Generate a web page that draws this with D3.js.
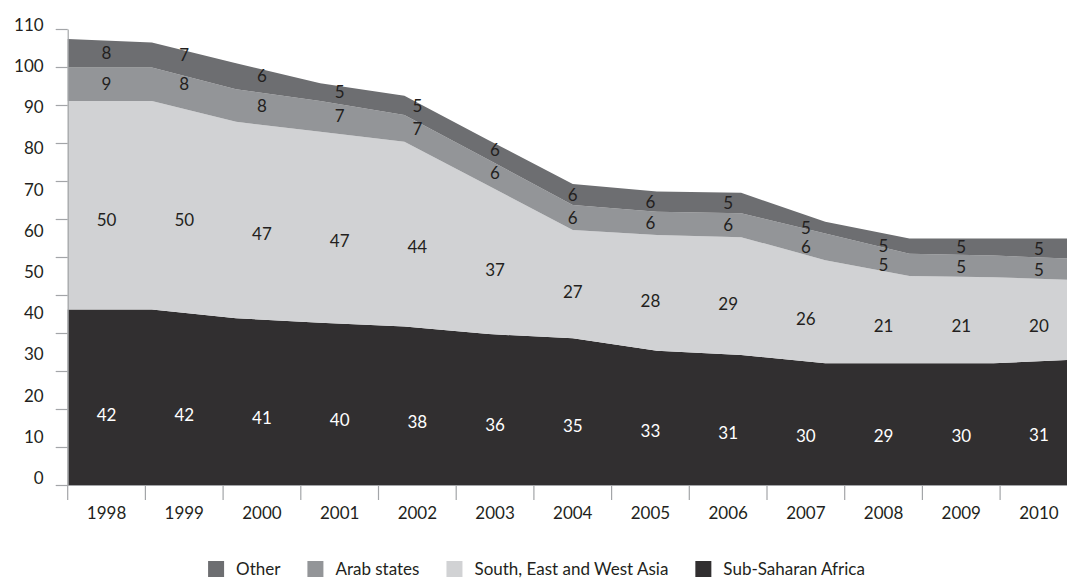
<!DOCTYPE html>
<html>
<head>
<meta charset="utf-8">
<script src="https://cdn.jsdelivr.net/npm/d3@7"></script>
<style>
  html, body { margin: 0; padding: 0; background: #fff; }
  svg { display: block; font-family: Lato, "Noto Sans", sans-serif; }
</style>
</head>
<body>
<svg id="chart" width="1067" height="581"></svg>
<script>
// ---- data ----
const years = [1998, 1999, 2000, 2001, 2002, 2003, 2004, 2005, 2006, 2007, 2008, 2009, 2010];
const seriesNames = ["Sub-Saharan Africa", "South, East and West Asia", "Arab states", "Other"];
// plotted values (as drawn)
const africa = [42.0, 42.0, 39.9, 38.8, 37.9, 36.1, 35.1, 32.1, 31.1, 29.1, 29.1, 29.1, 30.0];
const asia   = [49.9, 49.9, 47.0, 45.7, 44.2, 35.5, 25.9, 27.7, 28.2, 24.7, 20.9, 20.6, 19.0];
const arab   = [8.0, 8.0, 7.8, 7.4, 6.4, 6.2, 6.0, 5.6, 5.7, 6.4, 5.3, 5.2, 5.1];
const other  = [6.8, 6.0, 6.2, 4.2, 4.6, 4.7, 5.0, 4.8, 4.9, 2.8, 3.7, 4.1, 4.9];
// printed data labels
const africaLabels = [42, 42, 41, 40, 38, 36, 35, 33, 31, 30, 29, 30, 31];
const asiaLabels   = [50, 50, 47, 47, 44, 37, 27, 28, 29, 26, 21, 21, 20];
const arabLabels   = [9, 8, 8, 7, 7, 6, 6, 6, 6, 6, 5, 5, 5];
const otherLabels  = [8, 7, 6, 5, 5, 6, 6, 6, 5, 5, 5, 5, 5];
const yTickLabels  = [0, 10, 20, 30, 40, 50, 60, 70, 80, 90, 100, 110];
const legendOrder  = ["Other", "Arab states", "South, East and West Asia", "Sub-Saharan Africa"];

// ---- styles ----
const colors = {
  "Sub-Saharan Africa": "#312f30",
  "South, East and West Asia": "#d1d2d4",
  "Arab states": "#939598",
  "Other": "#6d6e71"
};
const labelColors = {
  "Sub-Saharan Africa": "#ffffff",
  "South, East and West Asia": "#231f20",
  "Arab states": "#231f20",
  "Other": "#231f20"
};
// where inside its band each data label sits (0 = bottom, 1 = top)
const labelAnchor = {
  "Sub-Saharan Africa": 0.4,
  "South, East and West Asia": 0.43,
  "Arab states": 0.5,
  "Other": 0.5
};
const axisColor = "#a3a5a8";
const textColor = "#231f20";
const fontSize = 17;

const svg = d3.select("#chart");
const plotLeft = 67.7, plotRight = 1077.8, plotBottom = 485, plotTop = 29;
const yMax = 109.1;

const table = years.map((yr, i) => ({
  year: yr,
  "Sub-Saharan Africa": africa[i],
  "South, East and West Asia": asia[i],
  "Arab states": arab[i],
  "Other": other[i]
}));
const labelSets = {
  "Sub-Saharan Africa": africaLabels,
  "South, East and West Asia": asiaLabels,
  "Arab states": arabLabels,
  "Other": otherLabels
};

const stacked = d3.stack().keys(seriesNames)(table);

const xPoint = d3.scalePoint().domain(years).range([plotLeft, plotRight]);
const xBand = d3.scaleBand().domain(years).range([plotLeft, plotRight]).paddingInner(0).paddingOuter(0);
const y = d3.scaleLinear().domain([0, yMax]).range([plotBottom, plotTop]);
const yLabel = d3.scaleLinear().domain([0, 110]).range([478, 25]);

// areas
const area = d3.area()
  .x(d => xPoint(d.data.year))
  .y0(d => y(d[0]))
  .y1(d => y(d[1]));

svg.append("g").selectAll("path")
  .data(stacked)
  .join("path")
  .attr("d", area)
  .attr("fill", d => colors[d.key]);

// data labels
const lg = svg.append("g")
  .attr("font-size", fontSize)
  .attr("text-anchor", "middle");
stacked.forEach(layer => {
  const lbls = labelSets[layer.key];
  const f = labelAnchor[layer.key];
  lg.append("g").selectAll("text")
    .data(layer)
    .join("text")
    .attr("x", d => xBand(d.data.year) + xBand.bandwidth() / 2)
    .attr("y", d => y(d[0] + (d[1] - d[0]) * f))
    .attr("dy", "0.36em")
    .attr("fill", labelColors[layer.key])
    .text((d, i) => lbls[i]);
});

// y axis: tick marks (12 equal intervals) + labels
const yTickAxis = d3.axisLeft(y)
  .tickValues(d3.range(13).map(i => i * yMax / 12))
  .tickSize(12)
  .tickSizeOuter(0)
  .tickFormat("");
const gyt = svg.append("g").attr("transform", `translate(${plotLeft},0)`).call(yTickAxis);
gyt.selectAll("line, path").attr("stroke", axisColor).attr("stroke-width", 1.2);

const yLabelAxis = d3.axisLeft(yLabel)
  .tickValues(yTickLabels)
  .tickSize(0)
  .tickPadding(24);
const gyl = svg.append("g").attr("transform", `translate(${plotLeft},0)`).call(yLabelAxis);
gyl.select(".domain").remove();
gyl.selectAll("text")
  .attr("font-size", fontSize)
  .attr("font-family", "Lato, 'Noto Sans', sans-serif")
  .attr("fill", textColor);

// x axis: line + tick marks at band edges, labels at band centers
const xLine = d3.axisBottom(xBand).tickSize(0).tickSizeOuter(0).tickPadding(21.5);
const gx = svg.append("g").attr("transform", `translate(0,${plotBottom})`).call(xLine);
gx.select(".domain").attr("stroke", axisColor).attr("stroke-width", 1.2);
gx.selectAll("text")
  .attr("font-size", fontSize)
  .attr("font-family", "Lato, 'Noto Sans', sans-serif")
  .attr("fill", textColor);
svg.append("g").selectAll("line")
  .data(years)
  .join("line")
  .attr("x1", d => xBand(d))
  .attr("x2", d => xBand(d))
  .attr("y1", plotBottom)
  .attr("y2", plotBottom + 15)
  .attr("stroke", axisColor)
  .attr("stroke-width", 1.2);

// legend
const legend = svg.append("g");
const sq = 16, gapText = 12, gapItem = 27;
let cx = 0;
legendOrder.forEach(name => {
  const g = legend.append("g").attr("transform", `translate(${cx},0)`);
  g.append("rect").attr("x", 0).attr("y", -sq / 2).attr("width", sq).attr("height", sq)
    .attr("fill", colors[name]);
  const t = g.append("text").attr("x", sq + gapText).attr("y", 0).attr("dy", "0.36em")
    .attr("font-size", fontSize).attr("fill", textColor).text(name);
  const w = t.node().getComputedTextLength();
  cx += sq + gapText + w + gapItem;
});
const totalW = cx - gapItem;
legend.attr("transform", `translate(${(1067 - totalW) / 2 + 3},569)`);
</script>
</body>
</html>
